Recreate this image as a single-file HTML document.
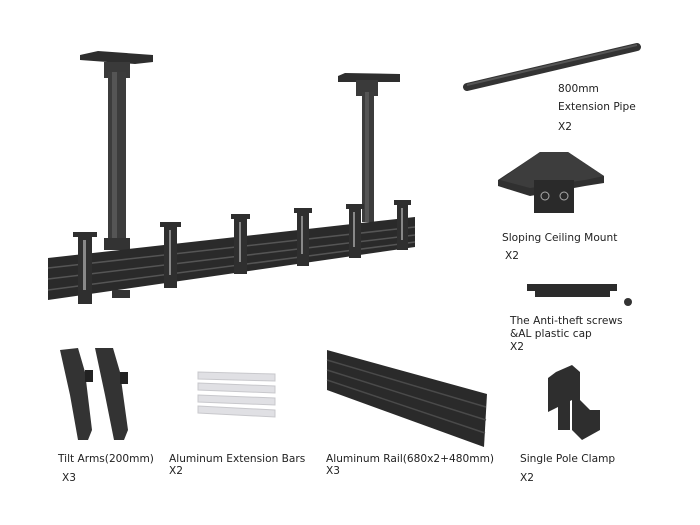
<!DOCTYPE html>
<html><head><meta charset="utf-8"><style>
html,body{margin:0;padding:0;background:#fff;}
svg{display:block;}
text{font-family:"DejaVu Sans","Liberation Sans",sans-serif;font-size:10.6px;fill:#222;}
</style></head><body>
<svg width="700" height="525" viewBox="0 0 700 525" xmlns="http://www.w3.org/2000/svg">
<rect width="700" height="525" fill="#fff"/>
<polygon points="80,55 98,51 153,55 153,62 135,64 80,60" fill="#2e2e2e"/>
<rect x="104" y="62" width="26" height="16" fill="#3a3a3a"/>
<rect x="108" y="72" width="18" height="175" fill="#3c3c3c"/>
<rect x="112" y="72" width="5" height="175" fill="#555"/>
<rect x="104" y="238" width="26" height="12" fill="#333"/>
<polygon points="338,76 345,73 400,74 400,82 338,82" fill="#2e2e2e"/>
<rect x="356" y="80" width="22" height="16" fill="#3a3a3a"/>
<rect x="362" y="92" width="12" height="130" fill="#3c3c3c"/>
<rect x="365" y="92" width="4" height="130" fill="#555"/>
<polygon points="48,258 415,217 415,247 48,300" fill="#2a2a2a"/>
<polyline points="48,268 415,227" stroke="#555" stroke-width="1.5" fill="none"/>
<polyline points="48,279 415,235" stroke="#555" stroke-width="1.5" fill="none"/>
<polyline points="48,290 415,242" stroke="#555" stroke-width="1.5" fill="none"/>
<rect x="112" y="290" width="18" height="8" fill="#333"/>
<g fill="#2f2f2f">
<rect x="78" y="232" width="14" height="72"/><rect x="73" y="232" width="24" height="5"/>
<rect x="164" y="222" width="13" height="66"/><rect x="160" y="222" width="21" height="5"/>
<rect x="234" y="214" width="13" height="60"/><rect x="231" y="214" width="19" height="5"/>
<rect x="297" y="208" width="12" height="58"/><rect x="294" y="208" width="18" height="5"/>
<rect x="349" y="204" width="12" height="54"/><rect x="346" y="204" width="18" height="5"/>
<rect x="397" y="200" width="11" height="50"/><rect x="394" y="200" width="17" height="5"/>
</g>
<g fill="#888">
<rect x="83" y="240" width="3" height="50"/><rect x="169" y="230" width="2" height="45"/>
<rect x="239" y="222" width="2" height="40"/><rect x="301" y="216" width="2" height="38"/>
<rect x="353" y="212" width="2" height="35"/><rect x="401" y="208" width="2" height="32"/>
</g>
<line x1="467" y1="87" x2="637" y2="47" stroke="#333" stroke-width="8" stroke-linecap="round"/>
<line x1="467" y1="85" x2="637" y2="45" stroke="#555" stroke-width="2"/>
<text x="558" y="92">800mm</text>
<text x="558" y="110">Extension Pipe</text>
<text x="558" y="130">X2</text>
<polygon points="498,180 540,152 568,152 604,176 604,183 585,186 530,196 498,186" fill="#303030"/>
<polygon points="540,152 568,152 604,176 585,180 530,188 500,180" fill="#3d3d3d"/>
<rect x="534" y="180" width="40" height="33" fill="#2a2a2a"/>
<circle cx="545" cy="196" r="4" fill="none" stroke="#aaa" stroke-width="1"/>
<circle cx="564" cy="196" r="4" fill="none" stroke="#aaa" stroke-width="1"/>
<text x="502" y="241">Sloping Ceiling Mount</text>
<text x="505" y="259">X2</text>
<polygon points="527,284 617,284 617,291 610,291 610,297 535,297 535,291 527,291" fill="#2b2b2b"/>
<circle cx="628" cy="302" r="4" fill="#333"/>
<text x="510" y="324">The Anti-theft screws</text>
<text x="510" y="337">&amp;AL plastic cap</text>
<text x="510" y="350">X2</text>
<g fill="#2e2e2e">
<polygon points="556,372 572,365 580,372 580,400 590,410 600,410 600,430 582,440 572,430 572,400 548,412 548,378"/>
<rect x="558" y="400" width="12" height="30"/>
</g>
<text x="520" y="462">Single Pole Clamp</text>
<text x="520" y="481">X2</text>
<g fill="#333">
<polygon points="60,350 78,348 85,372 92,430 88,440 78,440 70,395"/>
<polygon points="95,348 113,348 120,372 128,430 124,440 114,440 105,395"/>
</g>
<rect x="85" y="370" width="8" height="12" fill="#222"/><rect x="120" y="372" width="8" height="12" fill="#222"/>
<text x="58" y="462">Tilt Arms(200mm)</text>
<text x="62" y="481">X3</text>
<g fill="#e0e0e4" stroke="#c8c8cc" stroke-width="1">
<polygon points="198,372 275,374 275,381 198,379"/>
<polygon points="198,383 275,386 275,393 198,390"/>
<polygon points="198,395 275,398 275,405 198,402"/>
<polygon points="198,406 275,410 275,417 198,413"/>
</g>
<text x="169" y="462">Aluminum Extension Bars</text>
<text x="169" y="474">X2</text>
<polygon points="327,350 487,394 484,447 327,390" fill="#2a2a2a"/>
<polyline points="327,360 486,407" stroke="#4a4a4a" stroke-width="1.5" fill="none"/>
<polyline points="327,370 486,420" stroke="#4a4a4a" stroke-width="1.5" fill="none"/>
<polyline points="327,380 485,433" stroke="#4a4a4a" stroke-width="1.5" fill="none"/>
<text x="326" y="462">Aluminum Rail(680x2+480mm)</text>
<text x="326" y="474">X3</text>
</svg>
</body></html>
